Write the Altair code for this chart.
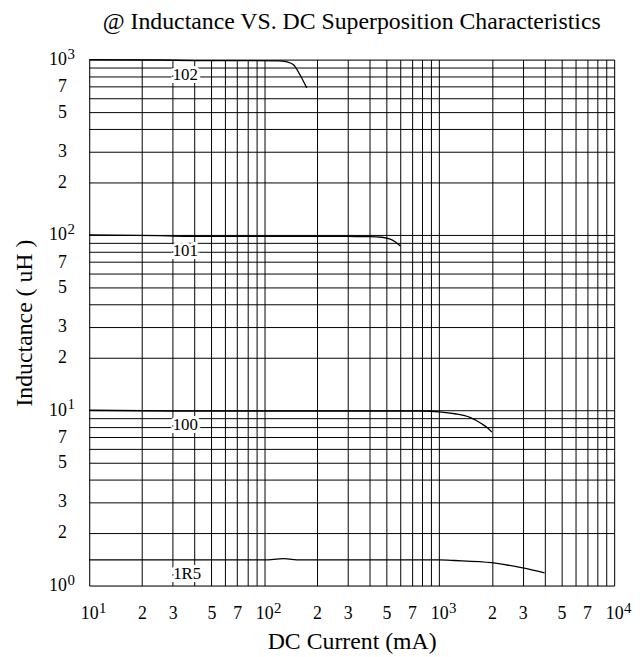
import altair as alt
import pandas as pd

# ---- axis ticks / grid ----
x_grid = [10, 20, 30, 40, 50, 60, 70, 80, 90,
          100, 200, 300, 400, 500, 600, 700, 800, 900,
          1000, 2000, 3000, 4000, 5000, 6000, 7000, 8000, 9000, 10000]
x_labeled = [10, 20, 30, 50, 70, 100, 200, 300, 500, 700,
             1000, 2000, 3000, 5000, 7000, 10000]
x_powers = [10, 100, 1000, 10000]
x_exps = ["1", "2", "3", "4"]

y_grid = [1, 2, 3, 4, 5, 6, 7, 8, 9,
          10, 20, 30, 40, 50, 60, 70, 80, 90,
          100, 200, 300, 400, 500, 600, 700, 800, 900, 1000]
y_labeled = [1, 2, 3, 5, 7, 10, 20, 30, 50, 70, 100, 200, 300, 500, 700, 1000]
y_powers = [1, 10, 100, 1000]
y_exps = ["0", "1", "2", "3"]

# ---- curves (DC current mA, inductance uH) ----
c102_x = [10, 25, 40, 120, 135, 147, 160, 175]
c102_y = [1000, 995, 988, 985, 970, 935, 820, 690]

c101_x = [10, 25, 35, 300, 400, 470, 520, 560, 600]
c101_y = [100, 99, 98.3, 98, 97.8, 97.0, 95.0, 91.5, 86.5]

c100_x = [10, 30, 800, 1000, 1230, 1500, 1740, 1900, 2000]
c100_y = [10, 9.9, 9.9, 9.8, 9.55, 9.1, 8.4, 7.9, 7.5]

c1r5_x = [10, 100, 129, 160, 1000, 1230, 2000, 3000, 4000]
c1r5_y = [1.40, 1.40, 1.425, 1.40, 1.40, 1.39, 1.35, 1.26, 1.18]

# ---- curve labels ----
lab_text = ["102", "101", "100", "1R5"]
lab_x = [35.4, 35.4, 35.4, 36.3]
lab_y = [822, 80.5, 8.26, 1.16]

FONT = "Liberation Serif"

rows = []
for name, xs, ys in [("102", c102_x, c102_y), ("101", c101_x, c101_y),
                     ("100", c100_x, c100_y), ("1R5", c1r5_x, c1r5_y)]:
    for i, (a, b) in enumerate(zip(xs, ys)):
        rows.append({"series": name, "x": a, "y": b, "order": i})
curves = pd.DataFrame(rows)

labels = pd.DataFrame({"t": lab_text, "x": lab_x, "y": lab_y})
xexp = pd.DataFrame({"x": x_powers, "t": x_exps})
yexp = pd.DataFrame({"y": y_powers, "t": y_exps})

def label_expr(labeled, powers):
    return (f"indexof({labeled}, datum.value) < 0 ? '' : "
            f"(indexof({powers}, datum.value) >= 0 ? '10' : "
            f"substring(toString(datum.value), 0, 1))")

xscale = alt.Scale(type="log", domain=[10, 10000], nice=False)
yscale = alt.Scale(type="log", domain=[1, 1000], nice=False)

x_axis = alt.Axis(values=x_grid, labelExpr=label_expr(x_labeled, x_powers),
                  grid=True, gridColor="black", gridOpacity=1, gridWidth=1,
                  ticks=False, domain=False, labelOverlap=False, labelFlush=False,
                  labelFont=FONT, labelFontSize=18, labelColor="black",
                  labelPadding=19,
                  title="DC Current (mA)", titleFont=FONT, titleFontSize=24,
                  titleFontWeight="normal", titleColor="black",
                  titleY=64, titleBaseline="alphabetic")
y_axis = alt.Axis(values=y_grid, labelExpr=label_expr(y_labeled, y_powers),
                  grid=True, gridColor="black", gridOpacity=1, gridWidth=1,
                  ticks=False, domain=False, labelOverlap=False, labelFlush=False,
                  labelFont=FONT, labelFontSize=18, labelColor="black",
                  labelPadding=23, labelBaseline="middle",
                  title="Inductance ( uH )", titleFont=FONT, titleFontSize=24,
                  titleFontWeight="normal", titleColor="black",
                  titleX=-65, titleY=265.5, titleAngle=270,
                  titleAlign="center", titleBaseline="middle")

lines = alt.Chart(curves).mark_line(interpolate="monotone", color="black",
                                    strokeWidth=1.3).encode(
    x=alt.X("x:Q", scale=xscale, axis=x_axis),
    y=alt.Y("y:Q", scale=yscale, axis=y_axis),
    detail="series:N",
    order="order:Q",
)

halo = alt.Chart(labels).mark_text(font=FONT, fontSize=17, color="white",
                                   stroke="white", strokeWidth=6,
                                   baseline="middle").encode(
    x="x:Q", y="y:Q", text="t:N")
txt = alt.Chart(labels).mark_text(font=FONT, fontSize=17, color="black",
                                  baseline="middle").encode(
    x="x:Q", y="y:Q", text="t:N")

xsup = alt.Chart(xexp).mark_text(font=FONT, fontSize=15, color="black",
                                 align="left", baseline="alphabetic",
                                 dx=10, dy=28).encode(
    x="x:Q", y=alt.datum(1), text="t:N")
ysup = alt.Chart(yexp).mark_text(font=FONT, fontSize=15, color="black",
                                 align="left", baseline="alphabetic",
                                 dx=-22, dy=-1).encode(
    x=alt.datum(10), y="y:Q", text="t:N")

chart = alt.layer(lines, halo, txt, xsup, ysup).properties(
    width=530, height=531,
    title=alt.TitleParams("@ Inductance VS. DC Superposition Characteristics",
                          font=FONT, fontSize=24, fontWeight="normal",
                          color="black", anchor="middle",
                          baseline="alphabetic", offset=18, dy=24),
    autosize=alt.AutoSizeParams(type="none"),
    padding={"left": 82, "top": 49, "right": 18, "bottom": 69},
).configure_view(stroke="black", strokeWidth=1).configure(background="white")

chart.save("out.html", embed_options={"renderer": "svg", "actions": False})
